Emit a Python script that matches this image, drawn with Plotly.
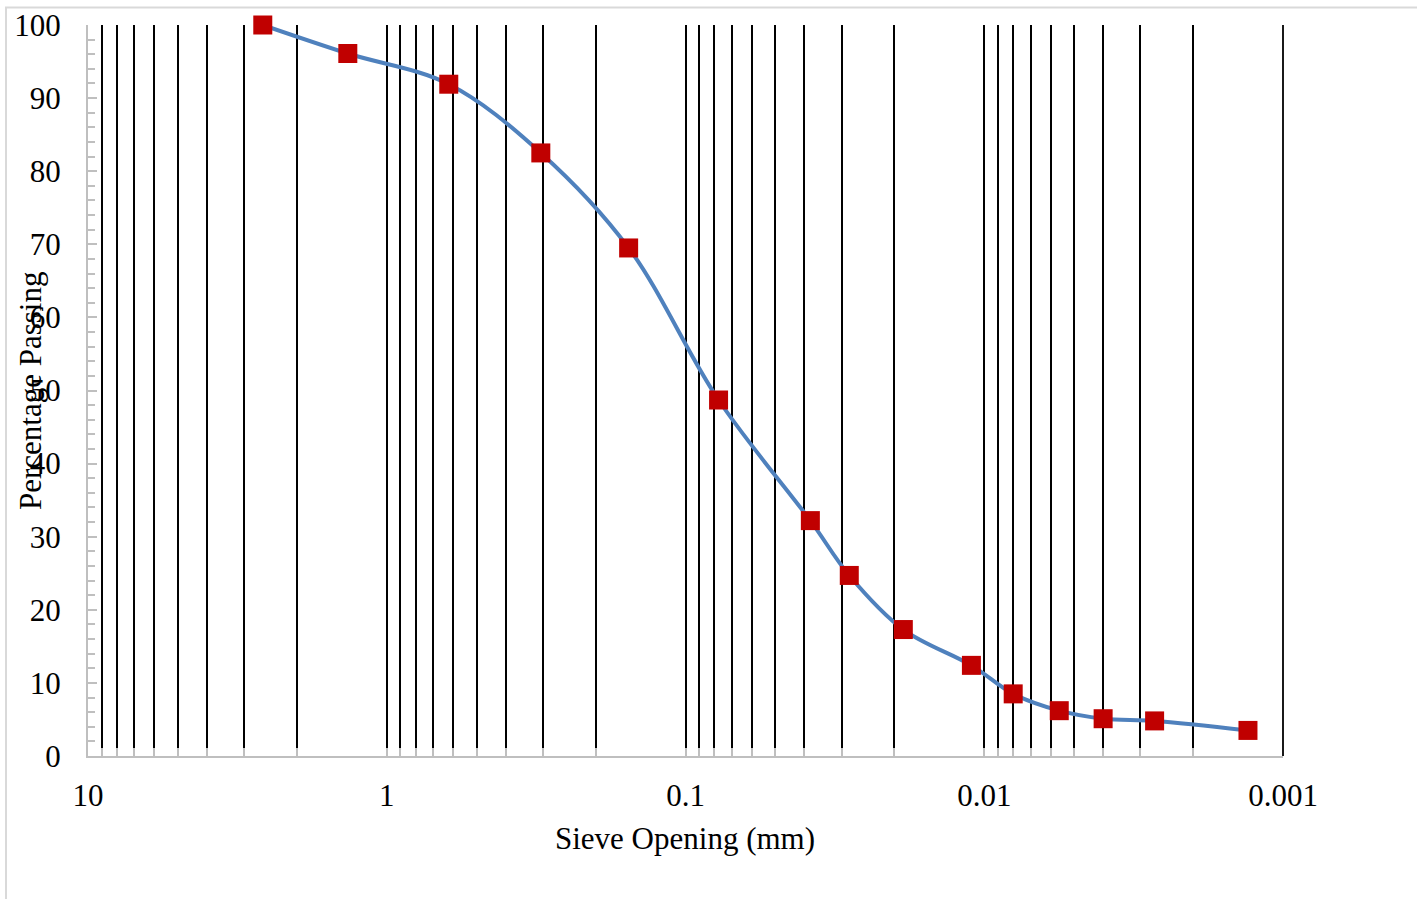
import plotly.graph_objects as go

# ---- data ----
sieve_mm = [2.6, 1.35, 0.62, 0.305, 0.155, 0.0775, 0.0382, 0.0283, 0.01866,
            0.01104, 0.0080, 0.00561, 0.00400, 0.00269, 0.00131]
percent_passing = [100.0, 96.1, 91.9, 82.5, 69.5, 48.7, 32.2, 24.7, 17.3,
                   12.4, 8.5, 6.2, 5.1, 4.8, 3.5]

decade_ticks = [10, 1, 0.1, 0.01, 0.001]
decade_labels = ["10", "1", "0.1", "0.01", "0.001"]
minor_multipliers = [2, 3, 4, 5, 6, 7, 8, 9]

y_title = "Percentage Passing"
x_title = "Sieve Opening (mm)"

# ---- build tick list (decades + 2..9 per decade) ----
tickvals, ticktext = [], []
for d, lab in zip(decade_ticks, decade_labels):
    tickvals.append(d)
    ticktext.append(lab)
for d in decade_ticks[1:]:
    for m in minor_multipliers:
        tickvals.append(d * m)
        ticktext.append("")

W, H = 1417, 899
L, R, T, B = 88, 134, 25, 143
pw, ph = W - L - R, H - T - B
FONT = "Liberation Serif"
AXIS_GREY = "#bfbfbf"


def px_x(x):
    return (x - L) / pw


def px_y(y):
    return (H - B - y) / ph


fig = go.Figure()
fig.add_trace(go.Scatter(
    x=sieve_mm, y=percent_passing, mode="lines+markers",
    line=dict(color="#4F81BD", width=4, shape="spline", smoothing=1.0),
    marker=dict(symbol="square", size=19, color="#C00000", line=dict(width=0)),
    cliponaxis=False, showlegend=False,
))

fig.update_layout(
    width=W, height=H,
    margin=dict(l=L, r=R, t=T, b=B, pad=0),
    paper_bgcolor="white", plot_bgcolor="white",
    font=dict(family=FONT, size=31, color="black"),
    showlegend=False,
    xaxis=dict(
        type="log", range=[1, -3], automargin=False,
        tickmode="array", tickvals=tickvals, ticktext=ticktext,
        showgrid=True, gridcolor="black", gridwidth=1.8,
        ticks="inside", ticklen=8, tickcolor=AXIS_GREY, tickwidth=1.5,
        showline=True, linecolor=AXIS_GREY, linewidth=2,
        ticklabelstandoff=11,
        tickfont=dict(family=FONT, size=31, color="black"),
        zeroline=False,
    ),
    yaxis=dict(
        range=[0, 100], dtick=10, tick0=0, automargin=False,
        showgrid=False, zeroline=False,
        ticks="inside", ticklen=9, tickcolor=AXIS_GREY, tickwidth=1.5,
        minor=dict(dtick=2, ticks="inside", ticklen=7, tickcolor=AXIS_GREY,
                   tickwidth=1.5, showgrid=False),
        showline=True, linecolor=AXIS_GREY, linewidth=2.2,
        ticklabelstandoff=19,
        tickfont=dict(family=FONT, size=31, color="black"),
    ),
    shapes=[
        dict(type="rect", xref="paper", yref="paper",
             x0=px_x(6), x1=px_x(1425), y0=px_y(910), y1=px_y(7.5),
             line=dict(color="#d9d9d9", width=2), fillcolor="rgba(0,0,0,0)",
             layer="below"),
        # gridline at the 0.001 end of the axis (right edge of the plot area)
        dict(type="line", xref="paper", yref="paper",
             x0=1, x1=1, y0=0, y1=1,
             line=dict(color="black", width=1.8), layer="below"),
    ],
    annotations=[
        dict(text=x_title, xref="paper", yref="paper",
             x=px_x(685), y=px_y(838), xanchor="center", yanchor="middle",
             showarrow=False, font=dict(family=FONT, size=31, color="black")),
        dict(text=y_title, xref="paper", yref="paper", textangle=-90,
             x=px_x(30), y=px_y(391), xanchor="center", yanchor="middle",
             showarrow=False, font=dict(family=FONT, size=31, color="black")),
    ],
)

fig.write_html("out.html")
